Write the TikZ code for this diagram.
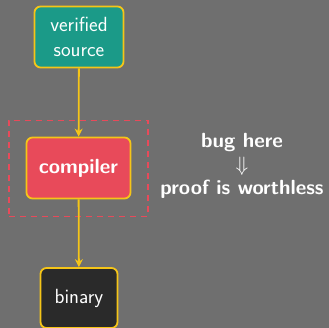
\documentclass[tikz,border=0pt]{standalone}
\usetikzlibrary{arrows.meta}
\definecolor{bg}{HTML}{6F6F6F}
\definecolor{tealc}{HTML}{1B9A88}
\definecolor{redc}{HTML}{E84A5A}
\definecolor{darkc}{HTML}{2A2A2A}
\definecolor{yel}{HTML}{F5C518}
\begin{document}
\begin{tikzpicture}[x=1pt,y=-1pt,font=\sffamily\fontsize{20.5}{24.5}\selectfont,
  box/.style={draw=yel,line width=1.8pt,rounded corners=6pt,text=white,align=center,inner sep=0pt},
  conn/.style={draw=yel,line width=1.8pt,-{Stealth[length=8pt,width=8pt]}}]
\fill[bg] (0,0) rectangle (329,328);
\useasboundingbox (0,0) rectangle (329,328);
\node[box,fill=tealc,minimum width=89pt,minimum height=61pt] (src) at (79,37) {verified\\source};
\node[box,fill=redc,minimum width=104pt,minimum height=61pt,font=\sffamily\bfseries\fontsize{20.5}{24.5}\selectfont] (comp) at (78.5,168) {compiler};
\node[box,fill=darkc,minimum width=77pt,minimum height=60pt] (bin) at (79,298) {binary};
\node[draw=redc,dashed,line width=1.2pt,dash pattern=on 6pt off 5pt,minimum width=139pt,minimum height=96pt,inner sep=0pt] (dash) at (78.5,168.5) {};
\node[text=white,align=center,font=\sffamily\bfseries\fontsize{20.5}{23.5}\selectfont] (note) at (242,166) {bug here\\$\Downarrow$\\proof is worthless};
\draw[conn] (src) -- (comp);
\draw[conn] (comp) -- (bin);
\end{tikzpicture}
\end{document}
